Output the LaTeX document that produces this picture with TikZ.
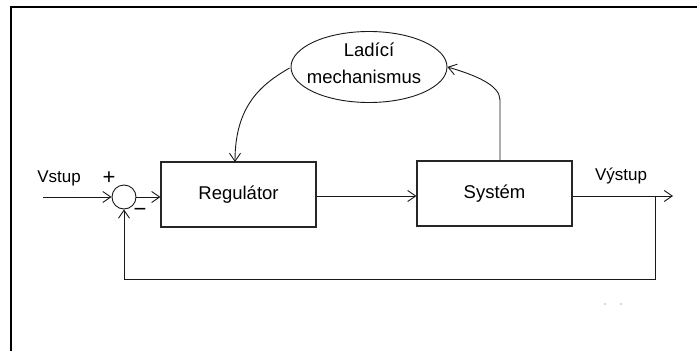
\documentclass[tikz,border=0pt]{standalone}
\usepackage{fontspec}
\setmainfont{Liberation Sans}
\usetikzlibrary{arrows.meta,shapes.geometric,calc}
\begin{document}
\begin{tikzpicture}[x=1pt,y=-1pt,
  lbl/.style={inner sep=0pt,font=\fontsize{17}{19}\selectfont},
  sign/.style={inner sep=0pt,font=\fontsize{22}{24}\selectfont},
  blockbox/.style={draw=black!85,line width=1.1pt,minimum width=155pt,minimum height=65pt,inner sep=0pt,font=\fontsize{18.5}{20}\selectfont},
  wire/.style={draw=black!90,line width=0.9pt},
  arr/.style={wire,-{Straight Barb[length=8pt,width=11pt]}},
  frame/.style={draw=black,line width=2pt}]
\useasboundingbox (0,0) rectangle (697,351);
\fill[white] (0,0) rectangle (697,351);
% frame
\draw[frame] (10.5,351) -- (10.5,6.5) -- (697,6.5);
% nodes
\node[ellipse,draw=black!90,line width=0.9pt,minimum width=156pt,minimum height=71pt,inner sep=0pt] (ell) at (369,67) {};
\node[lbl,font=\fontsize{18.5}{20}\selectfont] (l1) at (369,50) {Ladící};
\node[lbl,font=\fontsize{18.5}{20}\selectfont] (l2) at (364,77) {mechanismus};
\node[blockbox] (reg) at (238.5,194.5) {Regulátor};
\node[blockbox] (sys) at (494.5,193.5) {Systém};
\node[circle,draw=black!90,line width=0.9pt,minimum size=24pt,inner sep=0pt] (sum) at (124,197) {};
\node[lbl] (vin) at (59,178) {Vstup};
\node[lbl] (vout) at (621,176) {Výstup};
\node[sign] (plus) at (109,178) {+};
\node[sign] (minus) at (140,212) {\textminus};
\coordinate (start) at (43,197);
\coordinate (outend) at (673,196);
\coordinate (branch) at (655,196);
\coordinate (corner1) at (655,279);
\coordinate (corner2) at (124,279);
\coordinate (regtop) at (235,162);
\coordinate (systop) at (500,161);
% connectors
\draw[arr] (start) -- (sum.west);
\draw[arr] (sum.east) -- (reg.west |- sum.east);
\draw[arr] (reg.east |- 0,196) -- (sys.west |- 0,196);
\draw[arr] (sys.east |- 0,196) -- (outend);
\draw[arr] (branch) -- (corner1) -- (corner2) -- (sum.south);
\draw[arr] ($(ell.west)+(-1,1)$) .. controls (262,84) and (235,105) .. (regtop);
\draw[arr] (systop) -- (500,100) .. controls (500,85) and (475,75) .. (ell.east);
% dots
\fill[black!70] (605,304) circle (0.7pt);
\fill[black!70] (621,304) circle (0.7pt);
\end{tikzpicture}
\end{document}
